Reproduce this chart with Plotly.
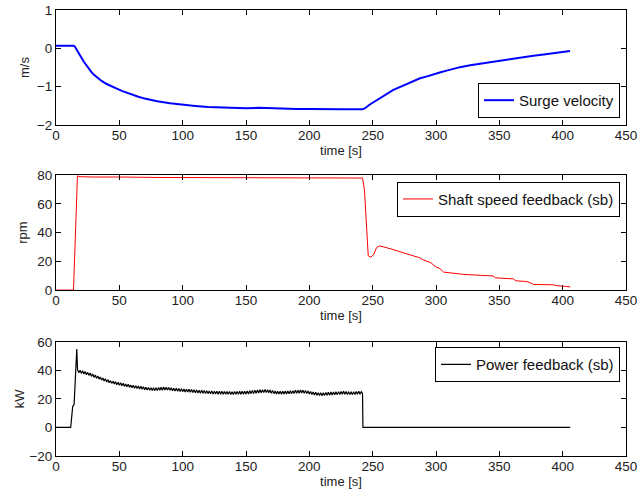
import plotly.graph_objects as go

# ---------------- data ----------------
surge_t = [0, 14, 15, 16, 17, 18, 19, 20, 22, 24, 26, 28, 30, 33, 36, 40, 44, 48, 52, 56, 60, 65, 70, 75, 80,
           90, 100, 110, 120, 135, 150, 160, 175, 190, 200, 210, 225, 242,
           244, 247.5, 251, 255, 258.4, 262, 266, 270, 274.2, 280, 287.4, 293, 297.9, 303, 308.4, 314, 319,
           327, 334.8, 342, 350.6, 358, 366.4, 377, 385, 392.7, 400, 405.8]
surge_v = [0.07, 0.07, 0.04, -0.01, -0.07, -0.13, -0.19, -0.24, -0.35, -0.45, -0.54, -0.62, -0.69, -0.78,
           -0.85, -0.93, -1.0, -1.05, -1.11, -1.16, -1.21, -1.26, -1.31, -1.35, -1.38,
           -1.43, -1.47, -1.5, -1.53, -1.55, -1.56, -1.55, -1.57, -1.58, -1.58, -1.59, -1.59, -1.59,
           -1.56, -1.47, -1.40, -1.31, -1.23, -1.16, -1.09, -1.03, -0.97, -0.88, -0.78, -0.73, -0.69, -0.63,
           -0.58, -0.53, -0.49, -0.44, -0.40, -0.36, -0.32, -0.28, -0.24, -0.19, -0.16, -0.13, -0.10, -0.07]

rpm_t = [0, 13.8, 15, 16.9, 18, 20, 30, 50, 52, 80, 100, 140, 150, 180, 200, 220, 242, 243.5, 245, 246.5,
         248, 249.5, 251, 253, 255.5, 258, 265, 274, 282, 287, 290, 296, 300, 303, 306, 315, 322, 335, 345,
         347, 353, 361, 363, 372, 374, 377, 392, 395, 398, 402, 406]
rpm_v = [0, 0, 30, 79.5, 79, 78.8, 78.6, 78.2, 78.6, 78.3, 78.2, 78.1, 78.0, 78.0, 77.9, 77.9, 77.9, 70, 45,
         24, 23, 23.5, 25, 29.5, 30.8, 30.3, 28.5, 26, 24, 22.5, 21, 19, 16, 15, 12.5, 11.5, 10.9, 10.3, 9.8,
         8.5, 8.1, 7.8, 6.5, 5.9, 5.2, 3.9, 3.7, 3.0, 2.8, 2.6, 2.2]

power_start_t = [0, 11.6, 13.2, 14.3, 16.4]
power_start_v = [0, 0, 14.8, 16, 55]
power_mid_t = list(range(17, 242))
power_mid_v = [
    40.6, 38.3, 40.1, 37.9, 39.7, 37.4, 39.2, 36.9, 38.6, 36.5,
    38.1, 35.8, 37.4, 35.1, 36.7, 34.4, 36.0, 33.9, 35.3, 33.2,
    34.7, 32.5, 34.1, 31.9, 33.4, 31.3, 32.8, 30.9, 32.4, 30.4,
    32.1, 30.0, 31.6, 29.6, 31.3, 29.2, 30.9, 28.8, 30.5, 28.5,
    30.2, 28.1, 29.8, 27.8, 29.5, 27.5, 29.2, 27.3, 29.0, 27.0,
    28.8, 26.7, 28.5, 26.4, 28.2, 26.2, 28.0, 26.0, 27.9, 25.9,
    27.8, 25.8, 27.9, 25.9, 28.0, 26.0, 28.2, 26.1, 28.3, 26.3,
    28.2, 26.2, 28.0, 26.0, 27.8, 25.8, 27.5, 25.5, 27.4, 25.3,
    27.3, 25.2, 27.2, 25.1, 27.0, 24.9, 26.8, 24.8, 26.7, 24.6,
    26.6, 24.5, 26.4, 24.3, 26.2, 24.2, 26.1, 24.0, 26.0, 23.9,
    25.9, 23.8, 25.8, 23.7, 25.6, 23.6, 25.5, 23.5, 25.4, 23.4,
    25.4, 23.3, 25.3, 23.3, 25.3, 23.2, 25.2, 23.2, 25.2, 23.2,
    25.2, 23.1, 25.1, 23.1, 25.2, 23.2, 25.2, 23.2, 25.3, 23.2,
    25.3, 23.3, 25.4, 23.4, 25.6, 23.5, 25.7, 23.7, 25.9, 23.8,
    26.0, 23.9, 26.2, 24.1, 26.4, 24.3, 26.5, 24.4, 26.6, 24.5,
    26.5, 24.3, 26.2, 24.0, 25.9, 23.7, 25.6, 23.5, 25.4, 23.4,
    25.3, 23.3, 25.4, 23.4, 25.5, 23.5, 25.6, 23.6, 25.7, 23.7,
    25.8, 23.8, 26.0, 23.9, 26.1, 24.0, 26.2, 24.1, 26.1, 24.0,
    25.9, 23.8, 25.6, 23.5, 25.2, 23.1, 24.9, 22.8, 24.6, 22.5,
    24.4, 22.4, 24.3, 22.3, 24.3, 22.4, 24.5, 22.5, 24.6, 22.6,
    24.8, 22.8, 24.9, 22.9, 25.0, 23.0, 25.1, 23.1, 25.2, 23.2,
    25.3, 23.2, 25.2, 23.1, 25.1, 23.1, 25.0, 23.0, 25.1, 23.1,
    25.2, 23.2, 25.3, 23.3, 25.1,
]
power_end_t = [242.0, 242.3, 300, 350, 406]
power_end_v = [23.8, 0, 0, 0, 0]

power_t = power_start_t + power_mid_t + power_end_t
power_v = power_start_v + power_mid_v + power_end_v

x_ticks = [0, 50, 100, 150, 200, 250, 300, 350, 400, 450]

# ---------------- figure ----------------
FONT = "Liberation Sans, Arial, Helvetica, sans-serif"
TICK = 13.5
fig = go.Figure()
fig.add_trace(go.Scatter(x=surge_t, y=surge_v, mode="lines", name="Surge velocity",
                         line=dict(color="#0000ff", width=2), xaxis="x", yaxis="y", legend="legend"))
fig.add_trace(go.Scatter(x=rpm_t, y=rpm_v, mode="lines", name="Shaft speed feedback (sb)",
                         line=dict(color="#ff0000", width=1), xaxis="x2", yaxis="y2", legend="legend2"))
fig.add_trace(go.Scatter(x=power_t, y=power_v, mode="lines", name="Power feedback (sb)",
                         line=dict(color="#000000", width=1.2), xaxis="x3", yaxis="y3", legend="legend3"))

def xax(anchor):
    return dict(range=[0, 450], tickvals=x_ticks, ticks="inside", ticklen=5, tickcolor="black",
                showline=True, linecolor="black", linewidth=1, mirror="ticks", showgrid=False,
                zeroline=False, anchor=anchor, domain=[0, 1], ticklabelstandoff=-2, automargin=False,
                title=dict(text="time [s]", standoff=2, font=dict(size=13)),
                tickfont=dict(size=TICK))

def yax(anchor, rng, dt, dom, title, so):
    return dict(range=rng, dtick=dt, ticks="inside", ticklen=5, tickcolor="black",
                showline=True, linecolor="black", linewidth=1, mirror="ticks", showgrid=False,
                zeroline=False, anchor=anchor, domain=dom, automargin=False,
                title=dict(text=title, standoff=so, font=dict(size=13)), tickfont=dict(size=TICK))

legend_common = dict(bordercolor="black", borderwidth=1, bgcolor="white", xref="paper", yref="paper",
                     font=dict(size=15, family=FONT, color="#111111"), x=0.9895, xanchor="right",
                     itemclick=False, tracegroupgap=0)

fig.update_layout(
    width=638, height=492,
    margin=dict(l=56, r=12, t=10, b=36, autoexpand=False),
    paper_bgcolor="white", plot_bgcolor="white",
    font=dict(family=FONT, size=13, color="#222222"),
    xaxis=xax("y"), yaxis=yax("x", [-2, 1], 1, [0.742, 1.0], "m/s", 4),
    xaxis2=xax("y2"), yaxis2=yax("x2", [0, 80], 20, [0.372, 0.630], "rpm", 6),
    xaxis3=xax("y3"), yaxis3=yax("x3", [-20, 60], 20, [0.0, 0.256], "kW", 1),
    legend=dict(legend_common, y=0.758, yanchor="bottom"),
    legend2=dict(legend_common, y=0.615, yanchor="top"),
    legend3=dict(legend_common, y=0.244, yanchor="top"),
    showlegend=True,
)

fig.write_html("out.html")
